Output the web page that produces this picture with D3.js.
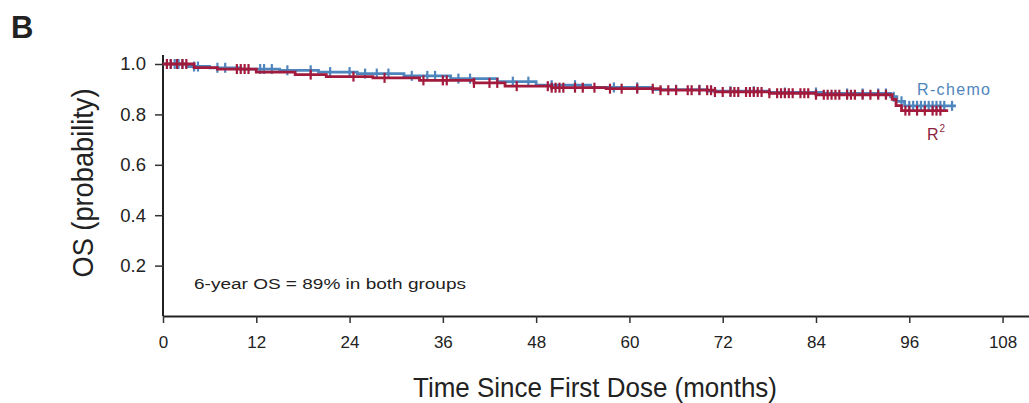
<!DOCTYPE html>
<html>
<head>
<meta charset="utf-8">
<script src="https://cdn.jsdelivr.net/npm/d3@7"></script>
<style>
  html, body { margin: 0; padding: 0; background: #fff; }
  svg { display: block; }
</style>
</head>
<body>
<svg id="chart" width="1029" height="403"></svg>
<script>
// ---- data ----
const xTicks = [0, 12, 24, 36, 48, 60, 72, 84, 96, 108];
const yTicks = [0.2, 0.4, 0.6, 0.8, 1.0];

// R-chemo step curve (event times in months, survival after step)
const rchemoTimes = [0, 3, 6, 10, 15, 20, 25, 31, 37, 43, 48, 55, 63, 70, 78, 85, 93.6, 94.4, 95.4, 102];
const rchemoSurv  = [1.0, 0.99, 0.985, 0.98, 0.975, 0.968, 0.962, 0.953, 0.942, 0.93, 0.916, 0.907, 0.898, 0.892, 0.887, 0.883, 0.87, 0.852, 0.834, 0.834];
const rchemoCensor = [1, 1.5, 2, 2.5, 4, 4.5, 7, 8, 12.5, 13, 14, 16, 19, 21.5, 24, 26, 27.5, 29, 32, 34, 35, 38, 39.5, 45, 47, 50, 53, 58, 61, 66, 69, 73, 76, 80, 84, 88, 90, 92, 93, 94, 95, 96, 96.5, 97, 97.5, 98, 98.5, 99, 99.5, 100, 100.5, 101.5];

// R² step curve
const r2Times = [0, 4, 7, 12, 17, 21, 27, 33, 40, 44, 50, 57, 64, 71, 78, 84, 93.8, 94.3, 95, 101];
const r2Surv  = [1.0, 0.986, 0.98, 0.968, 0.958, 0.95, 0.945, 0.935, 0.925, 0.912, 0.906, 0.902, 0.896, 0.889, 0.884, 0.878, 0.86, 0.835, 0.815, 0.815];
const r2Censor = [0.5, 1, 1.8, 2.5, 3, 9.5, 10, 10.5, 11, 19, 24.5, 28.5, 33.5, 36, 36.5, 40, 42, 43, 45.5, 49.5, 50, 50.5, 51, 51.5, 53, 54, 55.5, 57.5, 59, 61, 63, 64, 65, 66, 67.5, 68, 69, 70, 70.5, 71, 72, 73, 73.5, 74, 75, 75.5, 76, 76.5, 77, 78, 79, 79.5, 80, 80.5, 81, 82, 82.5, 83, 84, 85, 85.5, 86, 86.5, 87, 88, 88.5, 89, 90, 91, 92, 93, 95.5, 96, 97, 98, 99, 99.5, 100];

const seriesNames = ["R-chemo", "R\u00B2"];
const seriesColors = ["#4f85bd", "#a21a3c"];

// ---- layout ----
const svg = d3.select("#chart");
const x = d3.scaleLinear().domain([0, 111.4]).range([163, 1029]);
const y = d3.scaleLinear().domain([0, 1]).range([316, 64]);

const tickFont = "'Liberation Sans', Arial, sans-serif";
const titleFont = "'Liberation Sans Narrow', 'Arial Narrow', 'Liberation Sans', sans-serif";

// Panel letter
svg.append("text").attr("x", 11).attr("y", 38)
  .attr("font-family", tickFont).attr("font-weight", "bold").attr("font-size", 31)
  .attr("fill", "#222").text("B");

// Axes
const xAxis = d3.axisBottom(x).tickValues(xTicks).tickSize(7).tickSizeOuter(0).tickPadding(13);
const gx = svg.append("g").attr("transform", "translate(0,316)").call(xAxis);
gx.select(".domain").attr("stroke", "#222").attr("stroke-width", 2);
gx.selectAll(".tick line").attr("stroke", "#333").attr("stroke-width", 1.5);
gx.selectAll(".tick text").attr("font-family", tickFont).attr("font-size", 17).attr("fill", "#222");

const yAxis = d3.axisLeft(y).tickValues(yTicks).tickFormat(d3.format(".1f")).tickSize(8).tickSizeOuter(0).tickPadding(9);
const gy = svg.append("g").attr("transform", "translate(163,0)").call(yAxis);
gy.select(".domain").attr("d", `M0,${y(0)}V55`).attr("stroke", "#222").attr("stroke-width", 2);
gy.selectAll(".tick line").attr("stroke", "#333").attr("stroke-width", 1.5);
gy.selectAll(".tick text").attr("font-family", tickFont).attr("font-size", 18.5).attr("fill", "#222");

// Axis titles
svg.append("text").attr("x", 595).attr("y", 397).attr("text-anchor", "middle")
  .attr("font-family", titleFont).attr("font-size", 27.5).attr("fill", "#222")
  .attr("textLength", 364).attr("lengthAdjust", "spacingAndGlyphs")
  .text("Time Since First Dose (months)");
svg.append("text").attr("transform", "translate(93,183) rotate(-90)").attr("text-anchor", "middle")
  .attr("font-family", titleFont).attr("font-size", 29).attr("fill", "#222")
  .attr("textLength", 189).attr("lengthAdjust", "spacingAndGlyphs")
  .text("OS (probability)");

// Annotation
svg.append("text").attr("x", 194).attr("y", 289)
  .attr("font-family", tickFont).attr("font-size", 15.5).attr("fill", "#222")
  .attr("textLength", 272).attr("lengthAdjust", "spacingAndGlyphs")
  .text("6-year OS = 89% in both groups");

// Curves
function stepLookup(times, surv, t) {
  const i = d3.bisectRight(times, t) - 1;
  return surv[Math.max(0, i)];
}
function drawSeries(times, surv, censor, color) {
  const line = d3.line().x(d => x(d[0])).y(d => y(d[1])).curve(d3.curveStepAfter);
  const pts = times.map((t, i) => [t, surv[i]]);
  svg.append("path").datum(pts).attr("d", line)
    .attr("fill", "none").attr("stroke", color).attr("stroke-width", 2.8);
  svg.append("g").selectAll("line").data(censor).join("line")
    .attr("x1", d => x(d)).attr("x2", d => x(d))
    .attr("y1", d => y(stepLookup(times, surv, d)) - 5)
    .attr("y2", d => y(stepLookup(times, surv, d)) + 5)
    .attr("stroke", color).attr("stroke-width", 2.2);
}
drawSeries(rchemoTimes, rchemoSurv, rchemoCensor, seriesColors[0]);
drawSeries(r2Times, r2Surv, r2Censor, seriesColors[1]);

// Series labels
svg.append("text").attr("x", 917).attr("y", 95)
  .attr("font-family", tickFont).attr("font-size", 16).attr("fill", seriesColors[0])
  .attr("textLength", 73).attr("lengthAdjust", "spacing")
  .text(seriesNames[0]);
const r2lab = svg.append("text").attr("x", 927).attr("y", 140)
  .attr("font-family", tickFont).attr("font-size", 16).attr("fill", "#8e1f3e");
r2lab.append("tspan").text("R");
r2lab.append("tspan").attr("font-size", 10).attr("dy", -8).attr("dx", 1).text("2");
</script>
</body>
</html>
